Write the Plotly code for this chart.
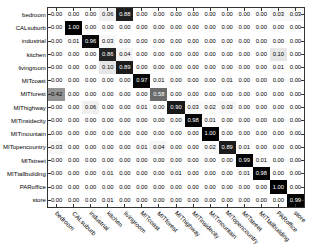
import plotly.graph_objects as go

categories = ["bedroom", "CALsuburb", "industrial", "kitchen", "livingroom",
              "MITcoast", "MITforest", "MIThighway", "MITinsidecity", "MITmountain",
              "MITopencountry", "MITstreet", "MITtallbuilding", "PARoffice", "store"]

row_bedroom =        [0.00, 0.00, 0.00, 0.06, 0.88, 0.00, 0.00, 0.00, 0.00, 0.00, 0.00, 0.00, 0.00, 0.03, 0.03]
row_calsuburb =      [0.00, 1.00, 0.00, 0.00, 0.00, 0.00, 0.00, 0.00, 0.00, 0.00, 0.00, 0.00, 0.00, 0.00, 0.00]
row_industrial =     [0.00, 0.01, 0.96, 0.03, 0.00, 0.00, 0.00, 0.00, 0.00, 0.00, 0.00, 0.00, 0.00, 0.00, 0.00]
row_kitchen =        [0.00, 0.00, 0.00, 0.86, 0.04, 0.00, 0.00, 0.00, 0.00, 0.00, 0.00, 0.00, 0.00, 0.10, 0.00]
row_livingroom =     [0.00, 0.00, 0.00, 0.10, 0.89, 0.00, 0.00, 0.00, 0.00, 0.00, 0.00, 0.00, 0.00, 0.01, 0.00]
row_mitcoast =       [0.00, 0.00, 0.00, 0.00, 0.00, 0.97, 0.01, 0.00, 0.00, 0.00, 0.01, 0.00, 0.00, 0.00, 0.00]
row_mitforest =      [0.42, 0.00, 0.00, 0.00, 0.00, 0.00, 0.58, 0.00, 0.00, 0.00, 0.00, 0.00, 0.00, 0.00, 0.00]
row_mithighway =     [0.00, 0.00, 0.06, 0.00, 0.00, 0.01, 0.00, 0.90, 0.03, 0.02, 0.03, 0.00, 0.00, 0.00, 0.00]
row_mitinsidecity =  [0.00, 0.00, 0.00, 0.00, 0.00, 0.00, 0.00, 0.00, 0.98, 0.01, 0.00, 0.00, 0.00, 0.00, 0.00]
row_mitmountain =    [0.00, 0.00, 0.00, 0.00, 0.00, 0.00, 0.00, 0.00, 0.00, 1.00, 0.00, 0.00, 0.00, 0.00, 0.00]
row_mitopencountry = [0.03, 0.00, 0.00, 0.00, 0.00, 0.01, 0.04, 0.00, 0.00, 0.02, 0.89, 0.01, 0.00, 0.00, 0.00]
row_mitstreet =      [0.00, 0.00, 0.00, 0.00, 0.00, 0.00, 0.00, 0.00, 0.00, 0.00, 0.00, 0.99, 0.01, 0.00, 0.00]
row_mittallbuilding =[0.00, 0.00, 0.00, 0.01, 0.00, 0.00, 0.00, 0.01, 0.00, 0.00, 0.00, 0.01, 0.98, 0.00, 0.00]
row_paroffice =      [0.00, 0.00, 0.00, 0.00, 0.00, 0.00, 0.00, 0.00, 0.00, 0.00, 0.00, 0.00, 0.00, 1.00, 0.00]
row_store =          [0.00, 0.00, 0.00, 0.01, 0.00, 0.00, 0.00, 0.00, 0.00, 0.00, 0.00, 0.00, 0.00, 0.00, 0.99]

matrix = [row_bedroom, row_calsuburb, row_industrial, row_kitchen, row_livingroom,
          row_mitcoast, row_mitforest, row_mithighway, row_mitinsidecity, row_mitmountain,
          row_mitopencountry, row_mitstreet, row_mittallbuilding, row_paroffice, row_store]

FONT = "Liberation Sans"

fig = go.Figure()
fig.add_trace(go.Heatmap(
    z=matrix, x=categories, y=categories,
    colorscale=[[0, "#ffffff"], [1, "#000000"]], zmin=0, zmax=1,
    showscale=False, hoverinfo="skip",
))

tx, ty, tt, tc = [], [], [], []
for i, r in enumerate(categories):
    for j, c in enumerate(categories):
        v = matrix[i][j]
        tx.append(c); ty.append(r); tt.append(f"{v:.2f}")
        tc.append("white" if v > 0.5 else "black")
fig.add_trace(go.Scatter(
    x=tx, y=ty, text=tt, mode="text",
    textfont=dict(size=5.8, color=tc, family=FONT),
    hoverinfo="skip", showlegend=False, cliponaxis=False,
))

n = len(categories)
axis_common = dict(
    showline=True, linecolor="#333333", linewidth=1, mirror="allticks",
    ticks="inside", ticklen=3, tickcolor="#333333", tickwidth=0.8,
    showgrid=False, zeroline=False, automargin=False,
    tickfont=dict(size=6.0, family=FONT, color="black"),
)
fig.update_xaxes(**axis_common, type="category", showticklabels=False,
                 categoryorder="array", categoryarray=categories, range=[-0.5, n - 0.5])
fig.update_yaxes(**axis_common, type="category",
                 categoryorder="array", categoryarray=categories, range=[n - 0.5, -0.5])

# rotated x tick labels (top-left of rotated box at the tick, like matplotlib ha='left')
for c in categories:
    fig.add_annotation(
        x=c, xref="x", y=0, yref="paper", text=c, textangle=45,
        showarrow=False, xanchor="left", yanchor="top",
        xshift=-4, yshift=-1, borderpad=0,
        font=dict(size=6.2, family=FONT, color="black"),
    )

fig.update_layout(
    width=312, height=247,
    margin=dict(l=48, r=8, t=8, b=40, pad=0, autoexpand=False),
    plot_bgcolor="white", paper_bgcolor="white",
    showlegend=False,
)

fig.write_html("out.html", config={"displayModeBar": False},
               post_script="document.body.style.margin='0';document.body.style.overflow='hidden';")
